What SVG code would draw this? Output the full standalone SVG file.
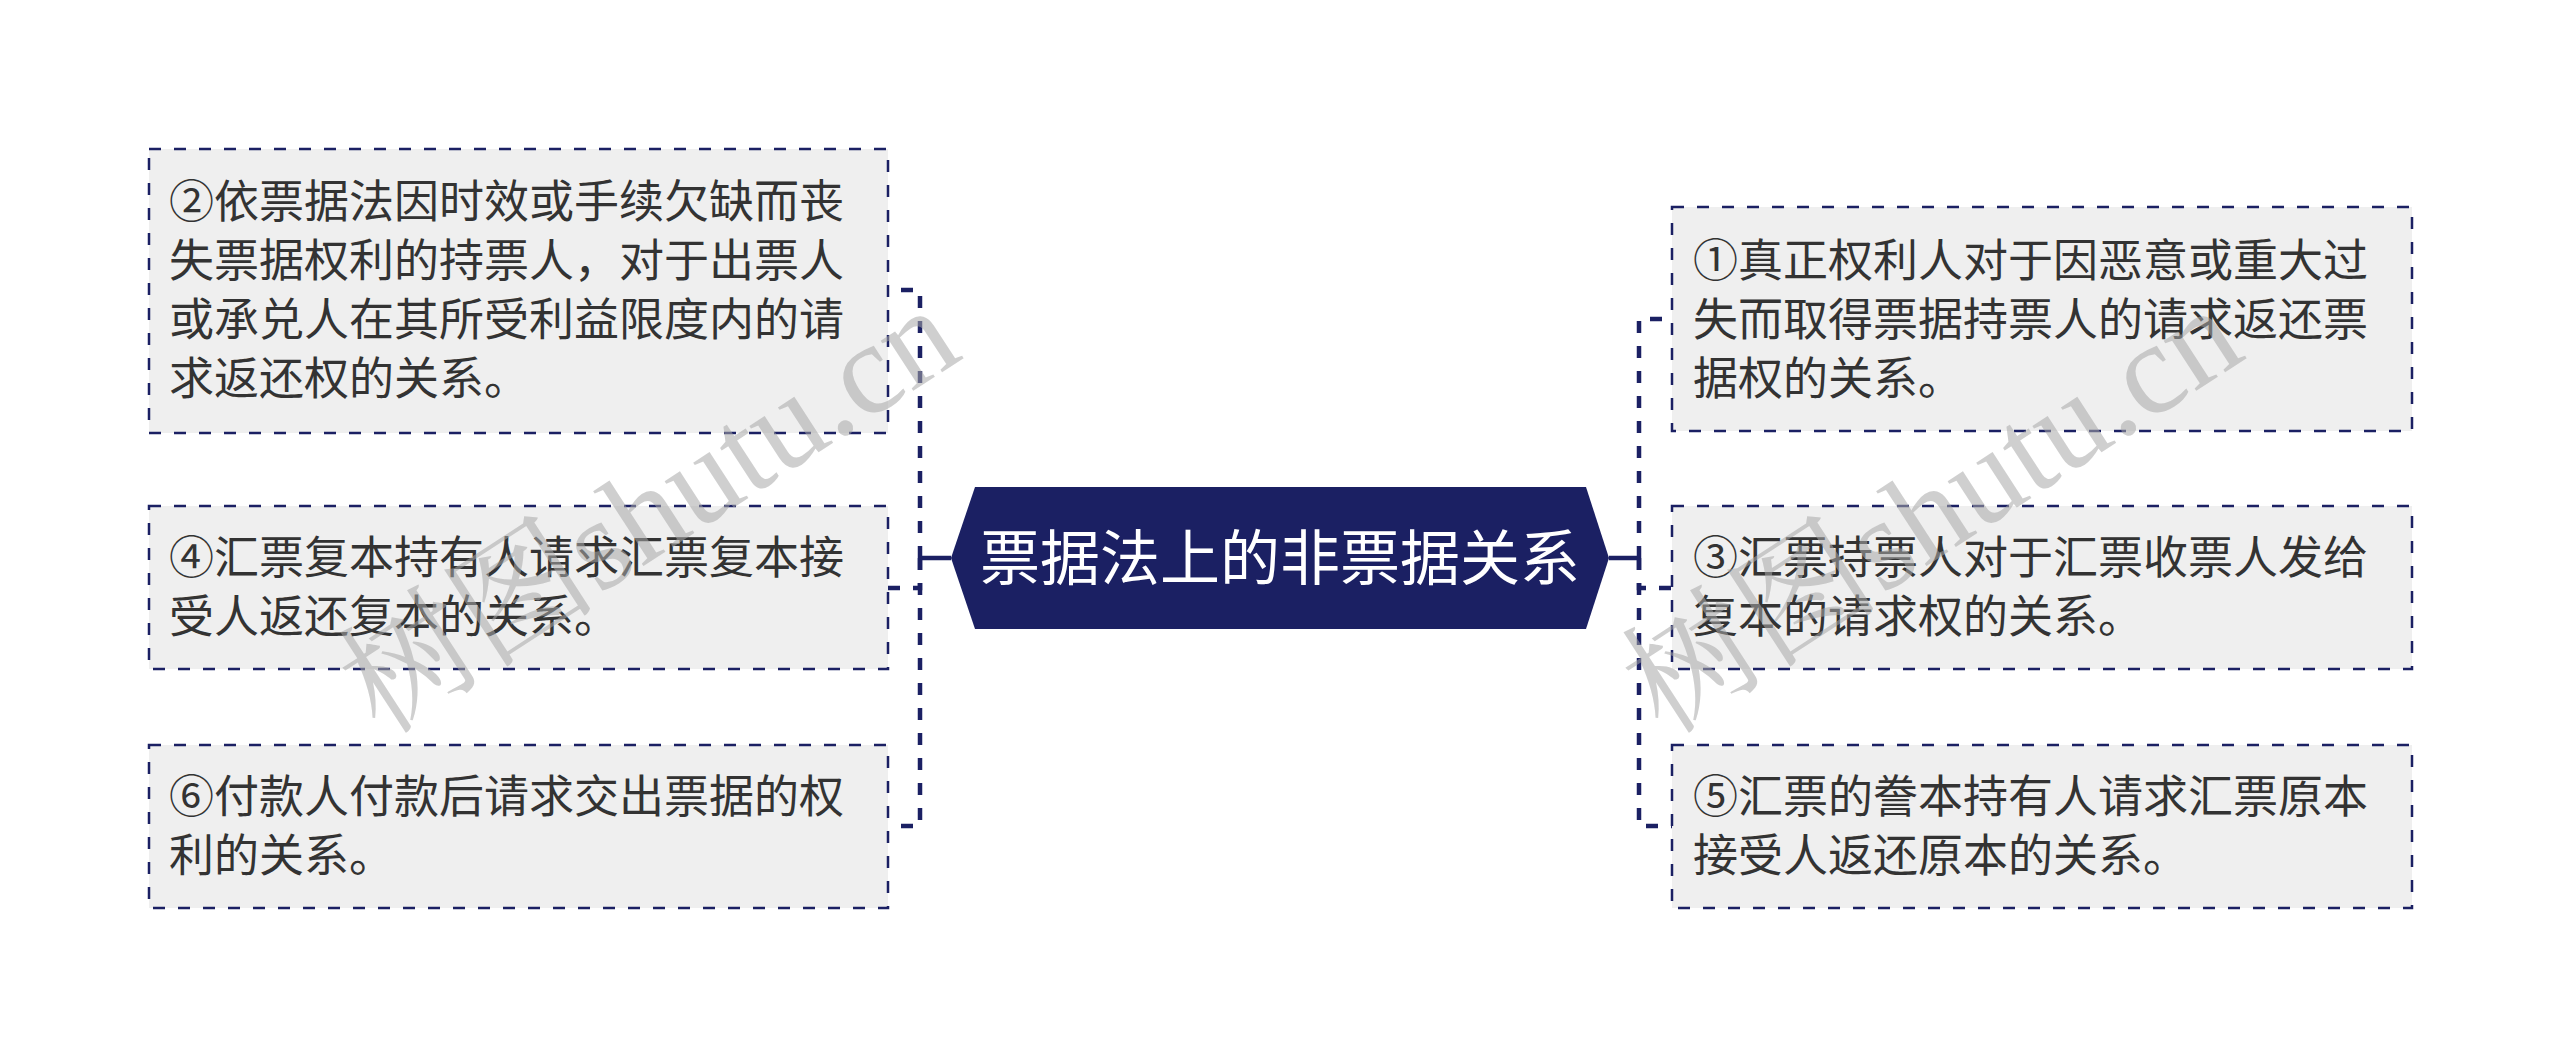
<svg xmlns="http://www.w3.org/2000/svg" width="2560" height="1057" viewBox="0 0 2560 1057">
<style>
.box{fill:#efefef;stroke:#1b2063;stroke-width:2.5;stroke-dasharray:12 13}
.t{font-family:"Noto Sans CJK SC","Noto Sans",sans-serif;font-size:45px;fill:#333333}
.ct{font-family:"Noto Sans CJK SC","Noto Sans",sans-serif;font-size:60px;fill:#ffffff}
.c{fill:none;stroke:#1b2063;stroke-width:4.5;stroke-dasharray:12 13}
.cs{fill:none;stroke:#1b2063;stroke-width:4.5}
.wm{font-family:"Liberation Serif","Noto Serif CJK SC","Noto Sans CJK SC",serif;font-size:130px;fill:#a8a8a8;fill-opacity:0.55}
</style>
<rect width="2560" height="1057" fill="#ffffff"/>
<g id="connectors">
<path class="cs" d="M951 558 H920"/>
<path class="c" d="M920 558 V290 H888"/>
<path class="c" d="M920 558 V588 H888"/>
<path class="c" d="M920 558 V826 H888"/>
<path class="cs" d="M1609 558 H1639"/>
<path class="c" d="M1639 558 V319 H1672"/>
<path class="c" d="M1639 558 V588 H1672"/>
<path class="c" d="M1639 558 V826 H1672"/>
</g>
<g id="center">
<polygon points="951,558 975,487 1586,487 1609,558 1586,629 975,629" fill="#1b2063"/>
<text class="ct" x="1280" y="580" text-anchor="middle">票据法上的非票据关系</text>
</g>
<g id="node2">
<rect class="box" x="149" y="149" width="739" height="284"/>
<text class="t"><tspan x="169" y="218">②依票据法因时效或手续欠缺而丧</tspan><tspan x="169" y="277">失票据权利的持票人，对于出票人</tspan><tspan x="169" y="336">或承兑人在其所受利益限度内的请</tspan><tspan x="169" y="395">求返还权的关系。</tspan></text>
</g>
<g id="node4">
<rect class="box" x="149" y="506" width="739" height="163"/>
<text class="t"><tspan x="169" y="574">④汇票复本持有人请求汇票复本接</tspan><tspan x="169" y="633">受人返还复本的关系。</tspan></text>
</g>
<g id="node6">
<rect class="box" x="149" y="745" width="739" height="163"/>
<text class="t"><tspan x="169" y="813">⑥付款人付款后请求交出票据的权</tspan><tspan x="169" y="872">利的关系。</tspan></text>
</g>
<g id="node1">
<rect class="box" x="1672" y="207" width="740" height="224"/>
<text class="t"><tspan x="1693" y="277">①真正权利人对于因恶意或重大过</tspan><tspan x="1693" y="336">失而取得票据持票人的请求返还票</tspan><tspan x="1693" y="395">据权的关系。</tspan></text>
</g>
<g id="node3">
<rect class="box" x="1672" y="506" width="740" height="163"/>
<text class="t"><tspan x="1693" y="574">③汇票持票人对于汇票收票人发给</tspan><tspan x="1693" y="633">复本的请求权的关系。</tspan></text>
</g>
<g id="node5">
<rect class="box" x="1672" y="745" width="740" height="163"/>
<text class="t"><tspan x="1693" y="813">⑤汇票的誊本持有人请求汇票原本</tspan><tspan x="1693" y="872">接受人返还原本的关系。</tspan></text>
</g>
<g id="watermarks">
<text class="wm" x="649" y="554" text-anchor="middle" transform="rotate(-33 649 510)">树图shutu.cn</text>
<text class="wm" x="1932" y="554" text-anchor="middle" transform="rotate(-33 1932 510)">树图shutu.cn</text>
</g>
</svg>
